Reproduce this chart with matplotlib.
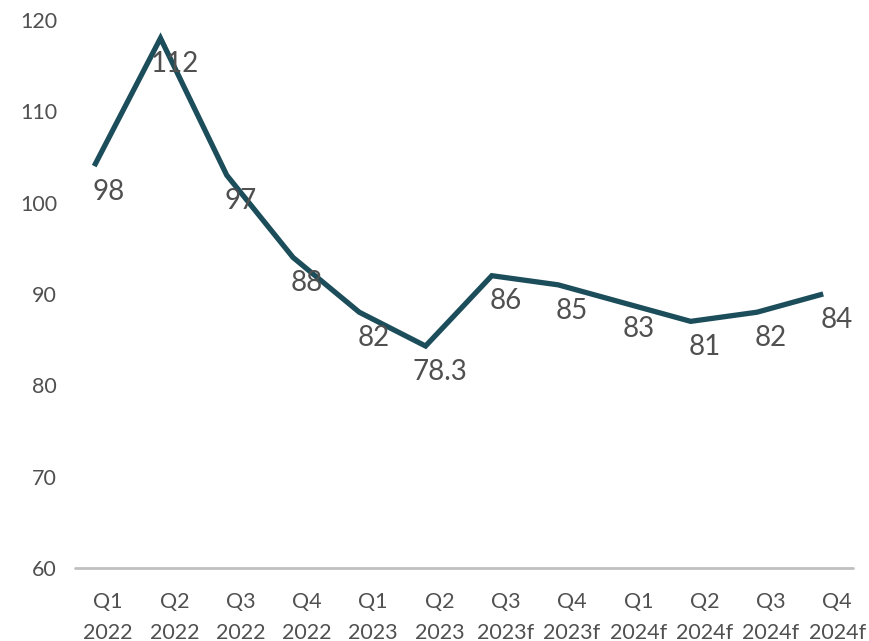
import matplotlib
matplotlib.use("Agg")
import matplotlib.pyplot as plt
import numpy as np

plt.rcParams['font.family'] = ['Lato', 'DejaVu Sans']

# quarterly values, as labelled on the line
quarters = ["Q1\n2022", "Q2\n2022", "Q3\n2022", "Q4\n2022",
            "Q1\n2023", "Q2\n2023", "Q3\n2023f", "Q4\n2023f",
            "Q1\n2024f", "Q2\n2024f", "Q3\n2024f", "Q4\n2024f"]
values = [98, 112, 97, 88, 82, 78.3, 86, 85, 83, 81, 82, 84]
value_labels = ["98", "112", "97", "88", "82", "78.3",
                "86", "85", "83", "81", "82", "84"]
axis_ticks = [60, 70, 80, 90, 100, 110, 120]

# the printed axis runs 6 points above the series values
axis_offset = 6
line_shift = -0.21
text_color = "#505050"
line_color = "#1c4d5b"

fig = plt.figure(figsize=(8.69, 6.41), dpi=100)
ax = fig.add_axes([0.0863, 0.1139, 0.8953, 0.855])

x = np.arange(len(values))
ax.plot(x + line_shift, values, color=line_color, linewidth=3.8,
        solid_joinstyle="miter", solid_capstyle="butt")

for xi, v, lab in zip(x, values, value_labels):
    ax.text(xi, v - 3.7, lab, ha="center", va="baseline",
            fontsize=20, color=text_color)

ax.set_xlim(-0.5, 11.24)
ax.set_ylim(axis_ticks[0] - axis_offset, axis_ticks[-1] - axis_offset)

ax.set_yticks(np.array(axis_ticks) - axis_offset)
ax.set_yticklabels([str(t) for t in axis_ticks])
ax.set_xticks(x)
ax.set_xticklabels(quarters, linespacing=1.7)

ax.tick_params(axis="y", length=0, pad=13, labelsize=15.5, labelcolor=text_color)
ax.tick_params(axis="x", length=0, pad=17, labelsize=15.5, labelcolor=text_color)

for side in ["top", "right", "left"]:
    ax.spines[side].set_visible(False)
ax.spines["bottom"].set_color("#c0c0c0")
ax.spines["bottom"].set_linewidth(2)
ax.spines["bottom"].set_capstyle("round")

fig.savefig("out.png", dpi=100)
